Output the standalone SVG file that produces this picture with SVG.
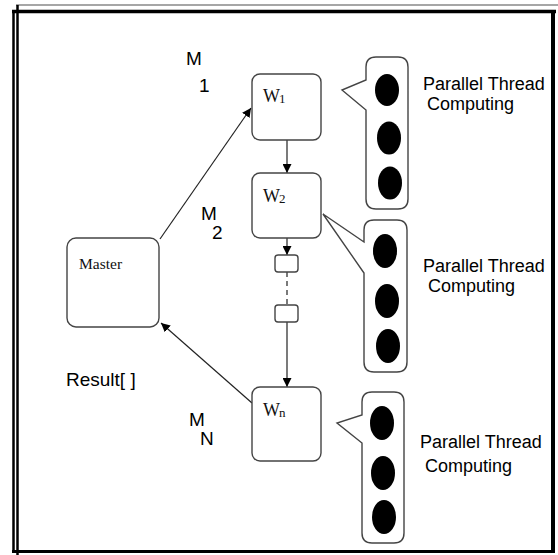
<svg xmlns="http://www.w3.org/2000/svg" width="558" height="555" viewBox="0 0 558 555">
<defs>
<style>
.box{fill:#fff;stroke:#444;stroke-width:1.4}
.bub{fill:#fff;stroke:#444;stroke-width:1.4;stroke-linejoin:miter}
.dot{fill:#000}
.ln{stroke:#222;stroke-width:1.2;fill:none}
.ser{font-family:"Liberation Serif","Times New Roman",serif;fill:#111}
.w{font-size:18px}
.sub{font-size:13px}
.san{font-family:"Liberation Sans",Arial,sans-serif;fill:#000}
.pt{font-size:18px}
.m{font-size:19px}
.frm{stroke:#000;fill:none}
</style>
<marker id="ah" viewBox="0 0 10 10" refX="10" refY="5" markerWidth="9" markerHeight="9" markerUnits="userSpaceOnUse" orient="auto">
<path d="M0,0 L10,5 L0,10 Z" fill="#000"/>
</marker>
</defs>
<rect width="558" height="555" fill="#fff"/>
<g id="frame">
<line x1="16" y1="5" x2="558" y2="5" stroke="#888" stroke-width="1.5"/>
<line x1="12" y1="11.5" x2="556" y2="11.5" class="frm" stroke-width="3.5"/>
<line x1="553" y1="10" x2="553" y2="553" class="frm" stroke-width="4"/>
<line x1="12" y1="551.5" x2="555" y2="551.5" class="frm" stroke-width="3"/>
<line x1="13.5" y1="10" x2="13.5" y2="553" class="frm" stroke-width="2.5"/>
<line x1="17.5" y1="5" x2="17.5" y2="555" class="frm" stroke-width="2.5"/>
</g>
<g id="connectors">
<line class="ln" x1="160" y1="239" x2="251" y2="108" marker-end="url(#ah)"/>
<line class="ln" x1="252" y1="403" x2="161" y2="323" marker-end="url(#ah)"/>
<line class="ln" x1="287" y1="140" x2="287" y2="173" marker-end="url(#ah)"/>
<line class="ln" x1="287" y1="238" x2="287" y2="255" marker-end="url(#ah)"/>
<line class="ln" x1="287" y1="272" x2="287" y2="305" stroke-dasharray="5,4"/>
<line class="ln" x1="287" y1="322" x2="287" y2="387" marker-end="url(#ah)"/>
</g>
<g id="master">
<rect class="box" x="67" y="238" width="92" height="89" rx="9"/>
<text class="ser" x="79" y="269" font-size="15.5">Master</text>
</g>
<g id="w1">
<rect class="box" x="252" y="74" width="69" height="66" rx="8"/>
<text class="ser w" x="263" y="102">W</text>
<text class="ser sub" x="279" y="103">1</text>
</g>
<g id="w2">
<rect class="box" x="252" y="173" width="69" height="65" rx="8"/>
<text class="ser w" x="263" y="202">W</text>
<text class="ser sub" x="279" y="203">2</text>
</g>
<g id="link1">
<rect class="box" x="275" y="255" width="23" height="17" rx="3"/>
</g>
<g id="link2">
<rect class="box" x="275" y="305" width="23" height="17" rx="3"/>
</g>
<g id="wn">
<rect class="box" x="252" y="387" width="69" height="74" rx="8"/>
<text class="ser w" x="263" y="416">W</text>
<text class="ser sub" x="279" y="417">n</text>
</g>
<g id="threads1">
<path class="bub" d="M376,57 H398 Q408,57 408,67 V199 Q408,209 398,209 H376 Q366,209 366,199 V110 L342,90 L366,80 V67 Q366,57 376,57 Z"/>
<ellipse class="dot" cx="387" cy="90" rx="12" ry="16"/>
<ellipse class="dot" cx="389" cy="138" rx="12" ry="16.5"/>
<ellipse class="dot" cx="390" cy="183" rx="12" ry="16.5"/>
<text class="san pt" x="423" y="90">Parallel Thread</text>
<text class="san pt" x="427" y="110">Computing</text>
</g>
<g id="threads2">
<path class="bub" d="M374,220 H397 Q407,220 407,230 V362 Q407,372 397,372 H374 Q364,372 364,362 V273 L323,214 L364,242 V230 Q364,220 374,220 Z"/>
<ellipse class="dot" cx="385" cy="251" rx="12" ry="17"/>
<ellipse class="dot" cx="387" cy="301" rx="12" ry="17"/>
<ellipse class="dot" cx="388" cy="346" rx="12" ry="17"/>
<text class="san pt" x="423" y="272">Parallel Thread</text>
<text class="san pt" x="428" y="292">Computing</text>
</g>
<g id="threads3">
<path class="bub" d="M372,392 H394 Q404,392 404,402 V533 Q404,543 394,543 H372 Q362,543 362,533 V443 L337,423 L362,415 V402 Q362,392 372,392 Z"/>
<ellipse class="dot" cx="382" cy="423" rx="12" ry="17"/>
<ellipse class="dot" cx="383" cy="473" rx="12" ry="17"/>
<ellipse class="dot" cx="384" cy="517" rx="12" ry="17"/>
<text class="san pt" x="420" y="448">Parallel Thread</text>
<text class="san pt" x="425" y="472">Computing</text>
</g>
<g id="labels">
<text class="san m" x="186" y="65">M</text>
<text class="san m" x="199" y="92">1</text>
<text class="san m" x="201" y="220">M</text>
<text class="san m" x="212" y="239">2</text>
<text class="san m" x="189" y="426">M</text>
<text class="san m" x="200" y="445">N</text>
<text class="san m" x="66" y="386">Result[ ]</text>
</g>
</svg>
